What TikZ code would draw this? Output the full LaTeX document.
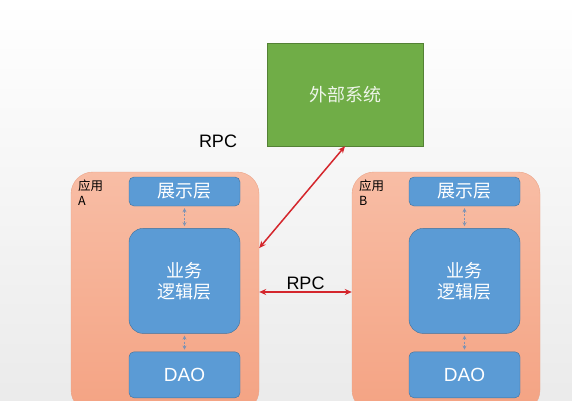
\documentclass[tikz,border=0pt]{standalone}
\usepackage{fontspec}
\setmainfont{Liberation Sans}
\newfontfamily\cjk{Noto Sans CJK SC}
\usetikzlibrary{arrows.meta, positioning, calc}
\definecolor{extgreen}{HTML}{70AD47}
\definecolor{extedge}{HTML}{548235}
\definecolor{layerblue}{HTML}{5B9BD5}
\definecolor{layeredge}{HTML}{41719C}
\definecolor{apptop}{HTML}{F8BDA5}
\definecolor{appbot}{HTML}{F4A383}
\definecolor{appedge}{HTML}{EBA488}
\definecolor{rpcred}{HTML}{D4262C}
\definecolor{linkgray}{HTML}{7D93B5}

\begin{document}
\begin{tikzpicture}[
  x=1pt, y=-1pt,
  app/.style={
    draw=appedge, top color=apptop, bottom color=appbot, rounded corners=22pt,
    minimum width=188pt, minimum height=240pt, inner sep=0pt
  },
  layer/.style={
    draw=layeredge, fill=layerblue, rounded corners=5pt, text=white,
    minimum width=111pt, minimum height=29pt, inner sep=0pt,
    font=\cjk\fontsize{18}{21}\selectfont, align=center
  },
  tag/.style={font=\cjk\fontsize{12.5}{15}\selectfont, align=left, inner sep=0pt},
  lbl/.style={font=\fontsize{18}{21}\selectfont, inner sep=1pt},
  rpc/.style={{Stealth[length=7pt,width=6pt]}-{Stealth[length=7pt,width=6pt]},
    draw=rpcred, line width=1.5pt},
  link/.style={{Stealth[length=4pt,width=4pt]}-{Stealth[length=4pt,width=4pt]},
    draw=linkgray, line width=0.9pt, dash pattern=on 2pt off 1.5pt}
]

% ---- page and background
\clip (0,0) rectangle (572,400);
\useasboundingbox (0,0) rectangle (572,400);
\shade[top color=white, bottom color=black!8] (0,0) rectangle (572,400);

% ---- the outside system
\node[draw=extedge, fill=extgreen, minimum width=156pt, minimum height=103pt,
  text=white!88!extgreen, font=\cjk\fontsize{18}{21}\selectfont] (ext)
  at (345,94.5) {外部系统};

% ---- application A
\node[app] (appA) at (165,292) {};
\node[tag, anchor=north west] (tagA) at (78,180) {应用\\A};
\node[layer] (presA) at (184.5,191.5) {展示层};
\node[layer, minimum height=105pt, rounded corners=14pt] (logicA)
  [below=22pt of presA] {业务\\逻辑层};
\node[layer, minimum height=46pt, font=\fontsize{19}{21}\selectfont] (daoA)
  [below=18pt of logicA] {DAO};

% ---- application B
\node[app] (appB) at (446,292) {};
\node[tag, anchor=north west] (tagB) at (359,180) {应用\\B};
\node[layer] (presB) at (464.5,191.5) {展示层};
\node[layer, minimum height=105pt, rounded corners=14pt] (logicB)
  [below=22pt of presB] {业务\\逻辑层};
\node[layer, minimum height=46pt, font=\fontsize{19}{21}\selectfont] (daoB)
  [below=18pt of logicB] {DAO};

% ---- links between the layers
\foreach \a/\b in {presA/logicA, logicA/daoA, presB/logicB, logicB/daoB}
  \draw[link] ([yshift=-2pt]\a.south) -- ([yshift=2pt]\b.north);

% ---- remote calls
\draw[rpc] (appA.east) -- node[lbl, above=1pt] (rpcMid) {RPC} (appB.west);
\draw[rpc] (appA.25) -- (ext.south);
\node[lbl] (rpcUp) at (218,141) {RPC};

\end{tikzpicture}
\end{document}
